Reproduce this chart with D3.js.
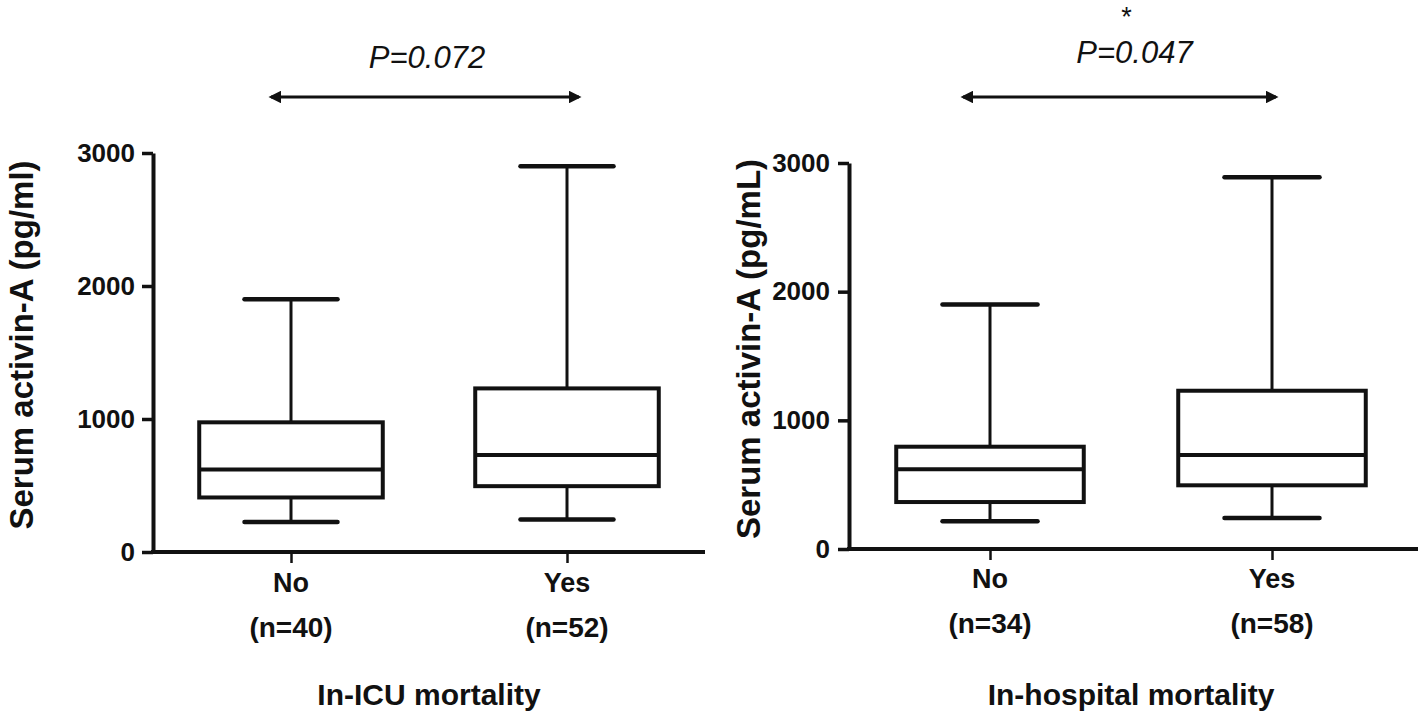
<!DOCTYPE html>
<html>
<head>
<meta charset="utf-8">
<script src="https://cdn.jsdelivr.net/npm/d3@7/dist/d3.min.js"></script>
<style>
  html, body { margin: 0; padding: 0; background: #fff; }
  svg { display: block; }
  text { font-family: "Liberation Sans", Arial, sans-serif; fill: #111; }
</style>
</head>
<body>
<svg id="chart" width="1418" height="718"></svg>
<script>
// ---------- data ----------
const categories = ["No", "Yes"];
const yTicks = [0, 1000, 2000, 3000];

// Panel 1: In-ICU mortality  [min, Q1, median, Q3, max]
const icuCounts = ["(n=40)", "(n=52)"];
const icuNo  = [225, 410, 620, 975, 1900];
const icuYes = [245, 495, 730, 1230, 2900];
const icuYTitle = "Serum activin-A (pg/ml)";
const icuXTitle = "In-ICU mortality";
const icuP = "P=0.072";

// Panel 2: In-hospital mortality
const hospCounts = ["(n=34)", "(n=58)"];
const hospNo  = [215, 365, 620, 795, 1900];
const hospYes = [240, 495, 730, 1230, 2890];
const hospYTitle = "Serum activin-A (pg/mL)";
const hospXTitle = "In-hospital mortality";
const hospP = "P=0.047";
const hospStar = "*";

// ---------- layout ----------
const panels = [
  { stats: [icuNo, icuYes], counts: icuCounts, yTitle: icuYTitle, xTitle: icuXTitle, p: icuP, star: null,
    x0: 153, x1: 705, xLineEnd: 705, yBottom: 552, yTop: 153, titleX: 22, titleY: 345, tickPad: 7,
    catY: 592, nY: 637, xTitleY: 705, pY: 68, arrowY: 97, arrowL: 22, arrowR: 14, pDx: 2, starDx: 0 },
  { stats: [hospNo, hospYes], counts: hospCounts, yTitle: hospYTitle, xTitle: hospXTitle, p: hospP, star: hospStar,
    x0: 849, x1: 1413, xLineEnd: 1418, yBottom: 549, yTop: 163, titleX: 749, titleY: 349, tickPad: 8,
    catY: 588, nY: 633, xTitleY: 705, pY: 63, arrowY: 97, arrowL: 29, arrowR: 6, pDx: 15, starDx: 7 }
];

const svg = d3.select("#chart");

svg.append("defs").append("marker")
  .attr("id", "arrowhead")
  .attr("viewBox", "0 0 10 10")
  .attr("refX", 8).attr("refY", 5)
  .attr("markerWidth", 4.2).attr("markerHeight", 4.2)
  .attr("markerUnits", "strokeWidth")
  .attr("orient", "auto-start-reverse")
  .append("path").attr("d", "M0,0 L10,5 L0,10 Z").attr("fill", "#111");

panels.forEach(P => {
  const g = svg.append("g");
  const x = d3.scalePoint().domain(categories).range([P.x0, P.x1]).padding(0.5);
  const y = d3.scaleLinear().domain([0, 3000]).range([P.yBottom, P.yTop]);
  const step = x.step();
  const bw = step * 0.665, cw = step * 0.337;

  // y axis
  const ya = g.append("g").attr("transform", `translate(${P.x0},0)`)
    .call(d3.axisLeft(y).tickValues(yTicks).tickSize(11).tickSizeOuter(0).tickPadding(P.tickPad).tickFormat(d3.format("d")));
  ya.select(".domain").attr("stroke", "#111").attr("stroke-width", 4);
  ya.selectAll(".tick line").attr("stroke", "#111").attr("stroke-width", 3.5);
  ya.selectAll(".tick text").attr("font-size", 26).attr("font-weight", "bold")
    .attr("font-family", "Liberation Sans, Arial, sans-serif").attr("fill", "#111");

  // x axis line
  g.append("line")
    .attr("x1", P.x0 - 2).attr("x2", P.xLineEnd)
    .attr("y1", y(0)).attr("y2", y(0))
    .attr("stroke", "#111").attr("stroke-width", 4);
  const xa = g.append("g").attr("transform", `translate(0,${y(0)})`)
    .call(d3.axisBottom(x).tickSize(11).tickFormat(""));
  xa.select(".domain").remove();
  xa.selectAll(".tick line").attr("stroke", "#111").attr("stroke-width", 2.5);

  // category labels
  categories.forEach((c, i) => {
    g.append("text").attr("x", x(c)).attr("y", P.catY).attr("text-anchor", "middle")
      .attr("font-size", 27).attr("font-weight", "bold").text(c);
    g.append("text").attr("x", x(c)).attr("y", P.nY).attr("text-anchor", "middle")
      .attr("font-size", 28).attr("font-weight", "bold").text(P.counts[i]);
  });

  // boxes
  categories.forEach((c, i) => {
    const [mn, q1, md, q3, mx] = P.stats[i];
    const cx = x(c);
    g.append("line").attr("x1", cx).attr("x2", cx).attr("y1", y(q3)).attr("y2", y(mx))
      .attr("stroke", "#111").attr("stroke-width", 3);
    g.append("line").attr("x1", cx).attr("x2", cx).attr("y1", y(q1)).attr("y2", y(mn))
      .attr("stroke", "#111").attr("stroke-width", 3);
    [mn, mx].forEach(v => {
      g.append("line").attr("x1", cx - cw / 2).attr("x2", cx + cw / 2).attr("y1", y(v)).attr("y2", y(v))
        .attr("stroke", "#111").attr("stroke-width", 4.5).attr("stroke-linecap", "round");
    });
    g.append("rect").attr("x", cx - bw / 2).attr("y", y(q3))
      .attr("width", bw).attr("height", y(q1) - y(q3))
      .attr("fill", "#fff").attr("stroke", "#111").attr("stroke-width", 4);
    g.append("line").attr("x1", cx - bw / 2).attr("x2", cx + bw / 2).attr("y1", y(md)).attr("y2", y(md))
      .attr("stroke", "#111").attr("stroke-width", 4);
  });

  // y title
  g.append("text")
    .attr("transform", `translate(${P.titleX + 11},${P.titleY}) rotate(-90)`)
    .attr("text-anchor", "middle").attr("font-size", 33).attr("font-weight", "bold")
    .text(P.yTitle);

  // x title
  g.append("text").attr("x", (x("No") + x("Yes")) / 2).attr("y", P.xTitleY).attr("text-anchor", "middle")
    .attr("font-size", 30).attr("font-weight", "bold").text(P.xTitle);

  // comparison arrow
  const ax1 = x("No") - P.arrowL, ax2 = x("Yes") + P.arrowR;
  g.append("line").attr("x1", ax1 + 2).attr("x2", ax2 - 2).attr("y1", P.arrowY).attr("y2", P.arrowY)
    .attr("stroke", "#111").attr("stroke-width", 3)
    .attr("marker-start", "url(#arrowhead)").attr("marker-end", "url(#arrowhead)");

  g.append("text").attr("x", (ax1 + ax2) / 2 + P.pDx).attr("y", P.pY).attr("text-anchor", "middle")
    .attr("font-size", 31).attr("font-style", "italic").text(P.p);

  if (P.star) {
    g.append("text").attr("x", (ax1 + ax2) / 2 + P.starDx).attr("y", 26).attr("text-anchor", "middle")
      .attr("font-size", 27).text(P.star);
  }
});
</script>
</body>
</html>
